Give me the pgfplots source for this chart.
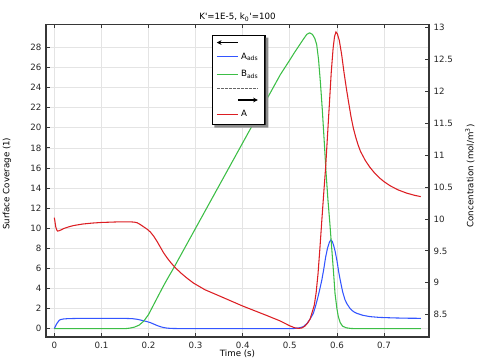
\documentclass[border=0pt]{standalone}
\usepackage{fontspec}
\setmainfont{DejaVu Sans}
\usepackage{pgfplots}
\pgfplotsset{compat=1.18}
\usetikzlibrary{arrows.meta}
\definecolor{cblue}{RGB}{51,85,255}
\definecolor{cgreen}{RGB}{60,190,70}
\definecolor{cred}{RGB}{220,30,35}
\definecolor{gridc}{RGB}{228,228,228}
\definecolor{axc}{RGB}{55,55,55}
\newcommand{\fs}{\fontsize{6.5}{7.5}\selectfont}
\begin{document}
\begin{tikzpicture}[font=\fs]
\pgfplotsset{
  every axis/.append style={
    scale only axis, width=287.25pt, height=234.5pt,
    xmin=-0.0176, xmax=0.7955,
    tick align=inside, major tick length=3pt,
    every tick/.style={axc, line width=0.6pt},
    axis line style={axc, line width=0.9pt},
    /pgf/number format/assume math mode=true,
    tick label style={font=\fs, text=black!85},
    label style={font=\fs, text=black!90},
  },
}
\begin{axis}[name=ax, at={(0,0)}, anchor=south west,
  ymin=-0.83, ymax=30.3,
  ytick={0,2,4,6,8,10,12,14,16,18,20,22,24,26,28},
  ytick pos=left,
  xtick={0,0.1,0.2,0.3,0.4,0.5,0.6,0.7},
  xtick pos=both, xticklabel pos=lower,
  xticklabel style={/pgf/number format/fixed},
  scaled y ticks=false,
  grid=major, major grid style={gridc, line width=0.5pt},
  xlabel={Time (s)},
  every axis x label/.style={at={(axis description cs:0.5,0)}, anchor=center, yshift=-12.5pt},
  ylabel={Surface Coverage (1)},
  every axis y label/.style={at={(axis description cs:-0.102,0.49)}, anchor=center, rotate=90},
  title={K\textquotesingle=1E-5, k\textsubscript{0}\textquotesingle=100},
  every axis title/.style={at={(axis description cs:0.5,1)}, anchor=base, yshift=3.5pt},
]
\addplot[cblue, line width=0.8pt] coordinates {
(0,0) (0.003,0.3) (0.006,0.55) (0.01,0.8) (0.0127,0.9) (0.02,0.97) (0.03,1.0) (0.05,1.02) (0.1,1.03) (0.15,1.02) (0.165,1.0) (0.175,0.94) (0.182,0.87) (0.19,0.78) (0.197,0.7) (0.204,0.6) (0.21,0.48) (0.218,0.32) (0.225,0.2) (0.232,0.11) (0.24,0.05) (0.25,0.02) (0.27,0.005) (0.3,0) (0.5,0) (0.51,0.02) (0.52,0.08) (0.529,0.2) (0.537,0.55) (0.543,0.95) (0.55,1.53) (0.555,2.3) (0.56,3.2) (0.564,4.0) (0.568,4.85) (0.572,5.9) (0.576,7.1) (0.58,8.0) (0.584,8.6) (0.587,8.83) (0.59,8.7) (0.593,8.3) (0.596,7.75) (0.6,6.8) (0.604,5.6) (0.607,4.85) (0.612,3.7) (0.617,2.9) (0.621,2.5) (0.628,2.0) (0.635,1.7) (0.642,1.53) (0.655,1.33) (0.67,1.2) (0.69,1.12) (0.72,1.07) (0.75,1.04) (0.778,1.03)
};
\addplot[cgreen, line width=0.8pt] coordinates {
(0,0) (0.15,0) (0.16,0.05) (0.17,0.15) (0.18,0.35) (0.19,0.75) (0.2,1.4) (0.21,2.3) (0.22,3.2) (0.23,4.1) (0.24,4.95) (0.253,6.0) (0.3,10.0) (0.35,14.25) (0.4,18.5) (0.45,22.75) (0.48,25.3) (0.5,26.75) (0.51,27.5) (0.52,28.2) (0.53,28.9) (0.536,29.3) (0.542,29.45) (0.548,29.3) (0.553,28.9) (0.557,28.3) (0.561,26.8) (0.565,24.5) (0.569,21.8) (0.573,18.7) (0.577,15.5) (0.581,12.8) (0.585,10.5) (0.589,8.0) (0.593,5.5) (0.596,3.5) (0.6,2.0) (0.603,1.2) (0.607,0.6) (0.612,0.25) (0.62,0.08) (0.63,0.02) (0.64,0) (0.778,0)
};
\node[anchor=base east, font=\fs, text=black!85, inner sep=0pt] at (axis description cs:0,1) [xshift=-10.5pt, yshift=-5.2pt] {×10\textsuperscript{−5}};
\end{axis}
\begin{axis}[at={(0,0)}, anchor=south west,
  axis x line=none, axis y line*=right,
  ymin=8.15, ymax=13.05,
  ytick={8.5,9,9.5,10,10.5,11,11.5,12,12.5,13},
  yticklabel style={/pgf/number format/fixed, anchor=west},
  ylabel={Concentration (mol/m\textsuperscript{3})},
  every axis y label/.style={at={(axis description cs:1.107,0.515)}, anchor=center, rotate=90},
  legend image code/.code={\draw[#1] (0pt,0pt) -- (15.75pt,0pt);},
  legend style={name=leg, at={(0.4326,0.9658)}, anchor=north west, draw=black, line width=0.9pt, fill=white,
    font=\fs, inner xsep=3pt, inner ysep=2.5pt, row sep=2.9pt,
    cells={anchor=west, line width=0.8pt}},
]
\addlegendimage{legend image code/.code={\draw[black, line width=0.9pt, {Stealth[length=3.5pt,width=3.5pt]}-] (0pt,0pt) -- (15.75pt,0pt);}}
\addlegendentry{}
\addlegendimage{cblue, line width=0.8pt}
\addlegendentry{A\textsubscript{ads}}
\addlegendimage{cgreen, line width=0.8pt}
\addlegendentry{B\textsubscript{ads}}
\addlegendimage{legend image code/.code={\draw[overlay, black!60, line width=0.6pt, dash pattern=on 0.5pt off 0.5pt] (0pt,0pt) -- (30.75pt,0pt);}}
\addlegendentry{}
\addlegendimage{legend image code/.code={\draw[overlay, black, line width=0.9pt, -{Stealth[length=3.5pt,width=3.5pt]}] (15.75pt,0pt) -- (30.75pt,0pt);}}
\addlegendentry{}
\addplot[cred, line width=0.8pt] coordinates {
(0,10.02) (0.001,9.98) (0.003,9.88) (0.005,9.83) (0.007,9.81) (0.01,9.815) (0.015,9.83) (0.02,9.85) (0.03,9.875) (0.04,9.895) (0.06,9.92) (0.08,9.935) (0.1,9.945) (0.12,9.95) (0.14,9.955) (0.16,9.955) (0.17,9.95) (0.176,9.94) (0.182,9.915) (0.19,9.875) (0.197,9.84) (0.204,9.795) (0.211,9.73) (0.218,9.65) (0.225,9.56) (0.232,9.47) (0.24,9.385) (0.248,9.31) (0.257,9.235) (0.27,9.145) (0.283,9.065) (0.2955,8.995) (0.32,8.89) (0.35,8.795) (0.4,8.635) (0.45,8.49) (0.48,8.40) (0.5,8.325) (0.51,8.295) (0.518,8.285) (0.525,8.29) (0.532,8.32) (0.538,8.37) (0.543,8.43) (0.548,8.55) (0.552,8.65) (0.556,8.85) (0.56,9.15) (0.564,9.55) (0.568,9.98) (0.572,10.4) (0.576,10.8) (0.58,11.3) (0.584,11.8) (0.588,12.3) (0.592,12.68) (0.595,12.86) (0.598,12.93) (0.601,12.9) (0.605,12.8) (0.61,12.58) (0.615,12.3) (0.62,12.05) (0.625,11.82) (0.63,11.6) (0.635,11.42) (0.64,11.28) (0.645,11.16) (0.65,11.06) (0.66,10.92) (0.67,10.81) (0.68,10.72) (0.69,10.645) (0.7,10.585) (0.713,10.52) (0.73,10.455) (0.748,10.405) (0.765,10.37) (0.778,10.35)
};
\addlegendentry{A}
\end{axis}
\fill[black!45] ([yshift=-2pt]leg.north east) -- ++(2pt,0pt) |- ([xshift=2pt,yshift=-2pt]leg.south west) -- ([xshift=2pt]leg.south west) -- (leg.south east) -- cycle;
\pgfresetboundingbox
\useasboundingbox (-34.5pt,-19.5pt) rectangle (327pt,252.75pt);
\end{tikzpicture}
\end{document}
